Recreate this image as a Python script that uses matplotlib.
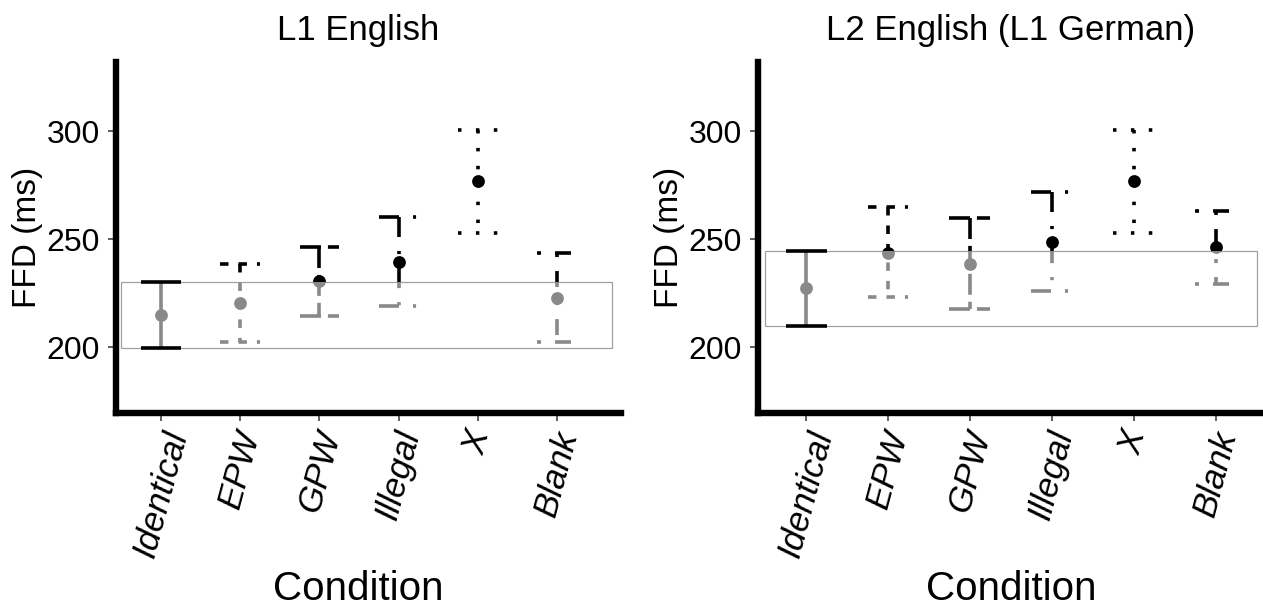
import matplotlib
matplotlib.use("Agg")
import matplotlib.pyplot as plt
from matplotlib.patches import Rectangle

plt.rcParams['font.family'] = ['Liberation Sans', 'DejaVu Sans']
plt.rcParams['lines.scale_dashes'] = False

# ---- data ----
conditions = ['Identical', 'EPW', 'GPW', 'Illegal', 'X', 'Blank']

l1_mean = [214.9, 220.4, 230.7, 239.6, 277.0, 223.0]
l1_lower = [199.8, 202.6, 214.5, 219.3, 252.8, 202.3]
l1_upper = [230.1, 238.6, 246.6, 260.5, 300.8, 243.5]

l2_mean = [227.3, 243.8, 238.6, 248.9, 277.1, 246.3]
l2_lower = [210.0, 223.1, 217.7, 226.1, 253.1, 229.2]
l2_upper = [244.7, 264.8, 259.7, 271.9, 300.8, 263.2]

y_ticks = [200, 250, 300]

# ---- style ----
GREY = '#898989'
LW = 2.6
CAP = 0.25
line_styles = {
    'Identical': '-',
    'EPW': (0, (6.1, 7.2)),
    'GPW': (0, (15.1, 5.0)),
    'Illegal': (0, (14.4, 10.1, 2.2, 10.1)),
    'X': (0, (2.5, 10.4)),
    'Blank': (0, (2.9, 10.1, 11.5, 10.1)),
}
YLIM = (169.6, 332.1)


def draw_panel(ax, means, lowers, uppers, xlim, box_x, axis_end, title):
    box_lo, box_hi = lowers[0], uppers[0]
    # part above the Identical CI is black, part inside it grey
    above = Rectangle((xlim[0] - 1, box_hi), xlim[1] - xlim[0] + 2, 200, transform=ax.transData)
    below = Rectangle((xlim[0] - 1, box_hi - 200), xlim[1] - xlim[0] + 2, 200, transform=ax.transData)

    ax.add_patch(Rectangle((box_x[0], box_lo), box_x[1] - box_x[0], box_hi - box_lo,
                           fill=False, edgecolor='#a0a0a0', lw=0.9, zorder=1, clip_on=False))

    for i, cond in enumerate(conditions):
        x = i + 1
        m, lo, up = means[i], lowers[i], uppers[i]
        ls = line_styles[cond]
        caps = [([x - CAP, x + CAP], [up, up]), ([x - CAP, x + CAP], [lo, lo])]
        vert = ([x, x], [up, lo])
        for color, clip in [('black', above), (GREY, below)]:
            segs = [vert] if i == 0 else caps + [vert]
            for xs, ys in segs:
                ln, = ax.plot(xs, ys, color=color, lw=LW, ls=ls,
                              dash_capstyle='butt', solid_capstyle='butt', zorder=2)
                ln.set_clip_path(clip)
            pt, = ax.plot(x, m, 'o', color=color, ms=9.2, mew=0, zorder=3)
            pt.set_clip_path(clip)
        if i == 0:
            for xs, ys in caps:
                ax.plot(xs, ys, color='black', lw=LW, solid_capstyle='butt', zorder=2)

    ax.set_xlim(*xlim)
    ax.set_ylim(*YLIM)
    ax.set_xticks(range(1, len(conditions) + 1))
    ax.set_xticklabels(conditions, rotation=75, ha='center', va='top',
                       fontsize=25, style='italic')
    ax.set_yticks(y_ticks)
    ax.tick_params(axis='y', labelsize=23, length=6, width=1.1, color='#333333', pad=5)
    ax.tick_params(axis='x', length=6, width=1.1, color='#333333', pad=4)

    for side in ['top', 'right']:
        ax.spines[side].set_visible(False)
    for side in ['left', 'bottom']:
        ax.spines[side].set_linewidth(4.6)
        ax.spines[side].set_capstyle('projecting')
    ax.spines['bottom'].set_bounds(xlim[0], axis_end)

    ax.set_title(title, fontsize=25, pad=15.5)
    ax.set_xlabel('Condition', fontsize=29)
    ax.set_ylabel('FFD (ms)', fontsize=24)


fig = plt.figure(figsize=(12.63, 6.07), dpi=100)
ax1 = fig.add_axes([115.5 / 1263, 0.3196, (601 - 115.5) / 1263, 0.5783])
ax2 = fig.add_axes([757.5 / 1263, 0.3196, (1264 - 757.5) / 1263, 0.5783])

draw_panel(ax1, l1_mean, l1_lower, l1_upper, (0.4255, 6.555), (0.5, 6.7), 6.81, 'L1 English')
draw_panel(ax2, l2_mean, l2_lower, l2_upper, (0.407, 6.59), (0.5, 6.5), 6.59, 'L2 English (L1 German)')

for ax, w in [(ax1, 485.5), (ax2, 506.5)]:
    ax.xaxis.set_label_coords(0.5, -157 / 351)
    ax.yaxis.set_label_coords(-88 / w, 0.5)
    ax.yaxis.label.set_va('center')

fig.savefig('out.png', dpi=100)
